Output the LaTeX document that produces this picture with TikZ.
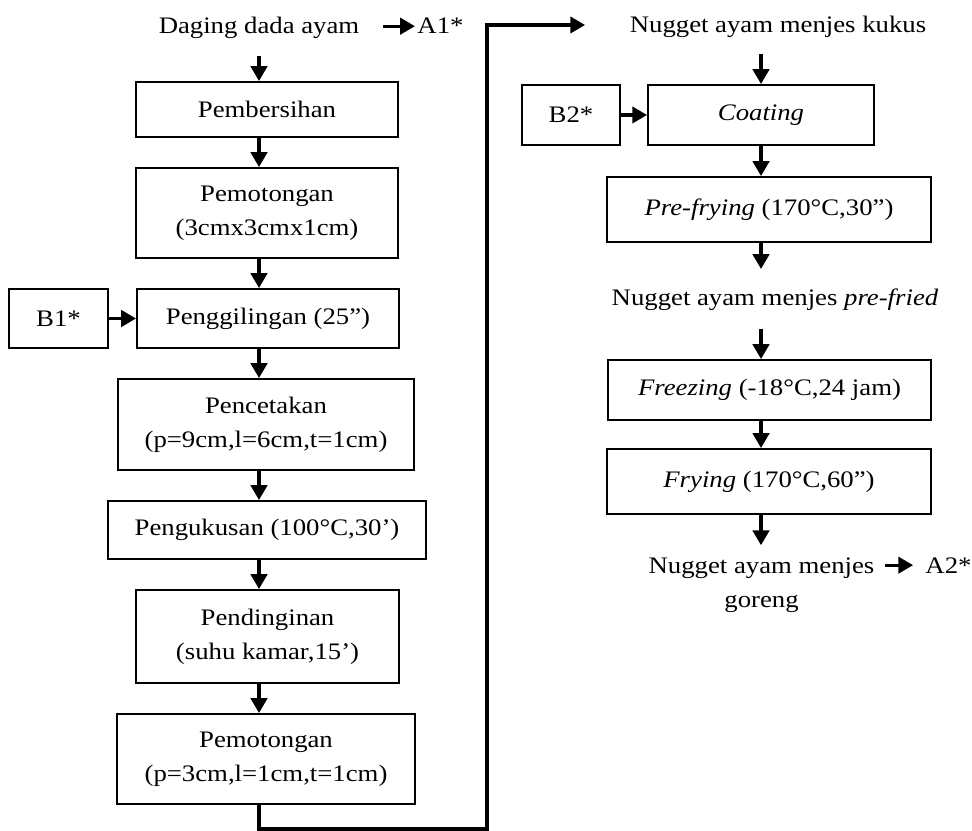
\documentclass[tikz,border=0pt]{standalone}
\usepackage{fontspec}
\setmainfont{Liberation Serif}[FakeStretch=1.13]
\usetikzlibrary{arrows.meta}
\begin{document}
\begin{tikzpicture}[x=0.015cm,y=-0.015cm,
        every node/.style={font=\fontsize{10.1}{14.5}\selectfont},
        box/.style={draw,line width=0.85pt,align=center,inner sep=0pt},
        txt/.style={inner sep=0pt,align=center},
        arr/.style={line width=1.3pt,-{Triangle[length=6.3pt,width=7pt]}}]
    \useasboundingbox (0,0) rectangle (972,831);
    \node[txt,anchor=base] (daging) at (259,34) {Daging dada ayam};
    \node[txt,anchor=base west] (a1) at (417,34) {A1*};
    \node[box,minimum width=3.93cm,minimum height=0.825cm] (pembersihan) at (267,109.5) {Pembersihan};
    \node[box,minimum width=3.93cm,minimum height=1.35cm] (pemotongan) at (267,213) {Pemotongan\\(3cmx3cmx1cm)};
    \node[box,minimum width=3.93cm,minimum height=0.885cm] (penggilingan) at (268,318.5) {Penggilingan (25”)};
    \node[box,minimum width=1.485cm,minimum height=0.885cm] (b1) at (58.5,318.5) {B1*};
    \node[box,minimum width=4.44cm,minimum height=1.365cm] (pencetakan) at (266,424.5) {Pencetakan\\(p=9cm,l=6cm,t=1cm)};
    \node[box,minimum width=4.77cm,minimum height=0.87cm] (pengukusan) at (267,530) {Pengukusan (100°C,30’)};
    \node[box,minimum width=3.945cm,minimum height=1.395cm] (pendinginan) at (267.5,636.5) {Pendinginan\\(suhu kamar,15’)};
    \node[box,minimum width=4.47cm,minimum height=1.35cm] (pemotongandua) at (266,759) {Pemotongan\\(p=3cm,l=1cm,t=1cm)};
    \node[txt,anchor=base] (kukus) at (778,33) {Nugget ayam menjes kukus};
    \coordinate (kukusin) at (585,25);
    \node[box,minimum width=3.39cm,minimum height=0.9cm] (coating) at (761,115) {\textit{Coating}};
    \node[box,minimum width=1.47cm,minimum height=0.9cm] (b2) at (571,115) {B2*};
    \node[box,minimum width=4.86cm,minimum height=0.975cm] (prefrying) at (769,209.5) {\textit{Pre-frying} (170°C,30”)};
    \node[txt,anchor=base] (prefried) at (775,306) {Nugget ayam menjes \textit{pre-fried}};
    \node[box,minimum width=4.845cm,minimum height=0.9cm] (freezing) at (769.5,390) {\textit{Freezing} (-18°C,24 jam)};
    \node[box,minimum width=4.86cm,minimum height=0.975cm] (frying) at (769,481.5) {\textit{Frying} (170°C,60”)};
    \node[txt] (goreng) at (761.5,585) {Nugget ayam menjes\\goreng};
    \node[txt,anchor=base west] (a2) at (925,573) {A2*};
    \draw[arr,shorten <=9.8pt,shorten >=0.9pt] (daging.east |- a1.west) -- (a1.west);
    \draw[arr,shorten <=6.8pt] (daging.south) -- (pembersihan.north -| daging);
    \draw[arr] (pembersihan.south -| daging) -- (pemotongan.north -| daging);
    \draw[arr] (pemotongan.south -| daging) -- (penggilingan.north -| daging);
    \draw[arr] (b1.east) -- (penggilingan.west);
    \draw[arr] (penggilingan.south -| daging) -- (pencetakan.north -| daging);
    \draw[arr] (pencetakan.south -| daging) -- (pengukusan.north -| daging);
    \draw[arr] (pengukusan.south -| daging) -- (pendinginan.north -| daging);
    \draw[arr] (pendinginan.south -| daging) -- (pemotongandua.north -| daging);
    \draw[arr] (pemotongandua.south -| daging) |- (487,829) |- (kukusin);
    \draw[arr,shorten <=6.4pt] (kukus.south -| coating) -- (coating.north);
    \draw[arr] (b2.east) -- (coating.west);
    \draw[arr] (coating.south) -- (prefrying.north -| coating);
    \draw[arr,shorten >=8.5pt] (prefrying.south -| coating) -- (prefried.north -| coating);
    \draw[arr,shorten <=7.3pt] (prefried.south -| coating) -- (freezing.north -| coating);
    \draw[arr] (freezing.south -| coating) -- (frying.north -| coating);
    \draw[arr,shorten >=5.1pt] (frying.south -| coating) -- (goreng.north -| coating);
    \draw[arr,shorten <=4.3pt,shorten >=5.1pt] (goreng.north east |- a2.west) -- (a2.west);
\end{tikzpicture}
\end{document}
